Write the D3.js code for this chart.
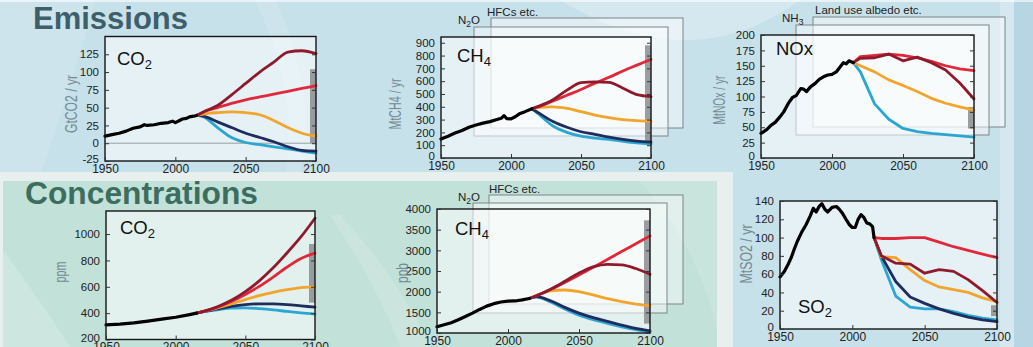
<!DOCTYPE html>
<html>
<head>
<meta charset="utf-8">
<script src="https://cdn.jsdelivr.net/npm/d3@7"></script>
<style>
  html, body { margin: 0; padding: 0; background: #c8e1eb; overflow: hidden; }
  svg { display: block; font-family: "Liberation Sans", Arial, sans-serif; }
</style>
</head>
<body>
<svg id="fig" width="1033" height="347"></svg>
<script>
// ---------- shared ----------
const scenarioNames  = ["SSP1-1.9", "SSP1-2.6", "SSP2-4.5", "SSP3-7.0", "SSP5-8.5"];
const scenarioColors = ["#2ba6d3", "#1f2c5e", "#f2a52c", "#e0283a", "#8f1a2d"];
const scenarioYears  = [2015, 2020, 2030, 2040, 2050, 2060, 2070, 2080, 2090, 2100];
const xTickYears     = [1950, 2000, 2050, 2100];

// ---------- CO2 emissions (GtCO2 / yr) ----------
const co2EmisHistYears = [1950, 1955, 1960, 1965, 1970, 1975, 1978, 1980, 1985, 1990, 1995, 1998, 2000, 2003, 2005, 2008, 2010, 2013, 2015];
const co2EmisHist      = [10, 12, 14, 17, 21, 23, 26, 25, 26, 28, 29, 31, 29, 32, 34, 35, 37, 38, 39];
const co2EmisSSP119 = [39, 37, 22, 8, 1, -2, -5, -8, -11, -14];
const co2EmisSSP126 = [39, 38, 30, 22, 14, 8, 2, -5, -10, -11];
const co2EmisSSP245 = [39, 41, 43, 44, 43, 40, 32, 22, 14, 10];
const co2EmisSSP370 = [39, 44, 50, 56, 61, 65, 69, 73, 77, 81];
const co2EmisSSP585 = [39, 44, 53, 68, 84, 100, 114, 128, 130, 126];
const co2EmisRange  = [0, 104];
const co2EmisTicks  = [-25, 0, 25, 50, 75, 100, 125];

// ---------- CH4 emissions (MtCH4 / yr) ----------
const ch4EmisHistYears = [1950, 1955, 1960, 1965, 1970, 1975, 1980, 1985, 1990, 1993, 1995, 1997, 2000, 2003, 2006, 2010, 2015];
const ch4EmisHist      = [148, 170, 195, 215, 240, 258, 272, 284, 300, 310, 330, 308, 305, 322, 345, 362, 385];
const ch4EmisSSP119 = [385, 340, 250, 200, 170, 155, 145, 130, 118, 110];
const ch4EmisSSP126 = [385, 350, 285, 240, 205, 185, 163, 145, 132, 125];
const ch4EmisSSP245 = [385, 395, 400, 388, 362, 335, 315, 300, 292, 288];
const ch4EmisSSP370 = [385, 400, 445, 490, 535, 585, 630, 680, 725, 770];
const ch4EmisSSP585 = [385, 405, 455, 530, 588, 595, 590, 545, 495, 480];
const ch4EmisRange  = [125, 880];
const ch4EmisTicks  = [0, 100, 200, 300, 400, 500, 600, 700, 800, 900];

// ---------- NOx emissions (MtNOx / yr) ----------
const noxHistYears = [1950, 1954, 1957, 1960, 1963, 1966, 1969, 1972, 1975, 1978, 1980, 1982, 1985, 1988, 1991, 1994, 1997, 2000, 2003, 2005, 2008, 2010, 2012, 2015];
const noxHist      = [40, 46, 53, 58, 66, 75, 88, 98, 102, 113, 112, 108, 116, 121, 128, 132, 135, 136, 140, 146, 155, 153, 158, 155];
const noxSSP119 = [155, 140, 88, 63, 48, 43, 40, 38, 36, 34];
const noxSSP126 = null;
const noxSSP245 = [155, 150, 140, 127, 118, 108, 97, 89, 83, 78];
const noxSSP370 = [155, 165, 167, 169, 167, 163, 157, 150, 145, 142];
const noxSSP585 = [155, 162, 163, 169, 158, 164, 155, 143, 122, 96];
const noxRange  = [48, 83];
const noxTicks  = [0, 25, 50, 75, 100, 125, 150, 175, 200];

// ---------- CO2 concentration (ppm) ----------
const co2ConcHistYears = [1950, 1960, 1970, 1980, 1990, 2000, 2010, 2015];
const co2ConcHist      = [311, 317, 326, 339, 354, 369, 389, 400];
const co2ConcSSP119 = [400, 411, 425, 438, 440, 434, 425, 413, 402, 393];
const co2ConcSSP126 = [400, 412, 432, 452, 465, 470, 470, 465, 455, 445];
const co2ConcSSP245 = [400, 413, 440, 470, 503, 533, 558, 578, 594, 600];
const co2ConcSSP370 = [400, 413, 446, 488, 541, 603, 674, 750, 815, 855];
const co2ConcSSP585 = [400, 414, 449, 497, 563, 645, 744, 858, 980, 1120];
const co2ConcRange  = [480, 925];
const co2ConcTicks  = [200, 400, 600, 800, 1000];

// ---------- CH4 concentration (ppb) ----------
const ch4ConcHistYears = [1950, 1955, 1960, 1965, 1970, 1975, 1980, 1985, 1990, 1995, 2000, 2005, 2010, 2015];
const ch4ConcHist      = [1150, 1200, 1250, 1320, 1400, 1480, 1570, 1650, 1710, 1750, 1770, 1775, 1800, 1835];
const ch4ConcSSP119 = [1835, 1870, 1750, 1580, 1430, 1320, 1230, 1150, 1080, 1020];
const ch4ConcSSP126 = [1835, 1880, 1780, 1620, 1480, 1370, 1280, 1190, 1110, 1050];
const ch4ConcSSP245 = [1835, 1910, 2020, 2040, 2000, 1920, 1830, 1760, 1700, 1660];
const ch4ConcSSP370 = [1835, 1900, 2050, 2220, 2400, 2590, 2780, 2970, 3160, 3350];
const ch4ConcSSP585 = [1835, 1900, 2060, 2250, 2450, 2600, 2660, 2650, 2560, 2420];
const ch4ConcRange  = [1227, 3727];
const ch4ConcTicks  = [1000, 1500, 2000, 2500, 3000, 3500, 4000];

// ---------- SO2 emissions (MtSO2 / yr) ----------
const so2HistYears = [1950, 1953, 1956, 1958, 1960, 1962, 1965, 1968, 1971, 1973, 1975, 1977, 1979, 1981, 1983, 1986, 1989, 1991, 1993, 1996, 1998, 2000, 2002, 2004, 2006, 2008, 2010, 2012, 2014, 2015];
const so2Hist      = [57, 63, 72, 79, 88, 96, 106, 114, 124, 132, 128, 134, 137, 131, 128, 133, 134, 131, 127, 119, 114, 111, 111, 120, 125, 122, 116, 115, 112, 100];
const so2SSP119 = [100, 76, 36, 24, 22, 22, 19, 15, 12, 10];
const so2SSP126 = [100, 80, 52, 35, 28, 22, 17, 13, 10, 8];
const so2SSP245 = [100, 79, 78, 65, 53, 46, 43, 40, 34, 30];
const so2SSP370 = [100, 99, 99, 100, 100, 95, 90, 86, 82, 78];
const so2SSP585 = [100, 80, 72, 71, 61, 65, 63, 54, 42, 29];
const so2Range  = [14, 26];
const so2Ticks  = [0, 20, 40, 60, 80, 100, 120, 140];

// ---------- layout ----------
const svg = d3.select("#fig");

// backdrop
const bg = svg.append("g");
bg.append("rect").attr("width", 1033).attr("height", 347).attr("fill", "#c7e1eb");
bg.append("path").attr("d", "M0,0 L95,0 Q70,90 40,175 L0,175 Z").attr("fill", "#fff").attr("opacity", 0.12);
bg.append("path").attr("d", "M560,0 Q690,80 800,0 Z").attr("fill", "#fff").attr("opacity", 0.25);
bg.append("path").attr("d", "M255,0 Q300,90 285,175 L300,175 Q318,90 275,0 Z").attr("fill", "#fff").attr("opacity", 0.12);
bg.append("rect").attr("x", 1000).attr("y", 0).attr("width", 14).attr("height", 347).attr("fill", "#fff").attr("opacity", 0.25);
bg.append("rect").attr("x", 1014).attr("y", 0).attr("width", 19).attr("height", 347).attr("fill", "#b7d5e3");
bg.append("rect").attr("x", 0).attr("y", 0).attr("width", 1033).attr("height", 2).attr("fill", "#fff").attr("opacity", 0.6);
// concentrations block
bg.append("rect").attr("x", 0).attr("y", 172).attr("width", 733).attr("height", 175).attr("fill", "#e8f0ef");
bg.append("rect").attr("x", 3).attr("y", 181).attr("width", 714).attr("height", 166).attr("fill", "#c2e1d9");
bg.append("path").attr("d", "M3,250 Q40,300 70,347 L3,347 Z").attr("fill", "#fff").attr("opacity", 0.18);
bg.append("path").attr("d", "M330,215 Q380,290 400,347 L430,347 Q400,280 340,215 Z").attr("fill", "#fff").attr("opacity", 0.15);
bg.append("path").attr("d", "M640,181 Q700,250 717,330 L717,181 Z").attr("fill", "#fff").attr("opacity", 0.12);

// section headings
svg.append("text").attr("x", 33).attr("y", 28.5).text("Emissions")
  .attr("font-size", 31).attr("font-weight", "bold").attr("fill", "#3e5f69")
  .attr("textLength", 155).attr("lengthAdjust", "spacingAndGlyphs");
svg.append("text").attr("x", 25).attr("y", 204).text("Concentrations")
  .attr("font-size", 31).attr("font-weight", "bold").attr("fill", "#3c6d5f")
  .attr("textLength", 233).attr("lengthAdjust", "spacingAndGlyphs");

const panels = [
  { hy: co2EmisHistYears, hv: co2EmisHist,
    ssp: [co2EmisSSP119, co2EmisSSP126, co2EmisSSP245, co2EmisSSP370, co2EmisSSP585],
    range: co2EmisRange, ticks: co2EmisTicks, domain: [-25, 150],
    box: { l: 105, r: 316, t: 36.5, b: 161 },
    unit: "GtCO2 / yr", unitPos: [71, 104], unitLen: 58,
    title: ["CO", "2"], titlePos: [117, 65], smooth: true, zero: true, backs: [] },
  { hy: ch4EmisHistYears, hv: ch4EmisHist,
    ssp: [ch4EmisSSP119, ch4EmisSSP126, ch4EmisSSP245, ch4EmisSSP370, ch4EmisSSP585],
    range: ch4EmisRange, ticks: ch4EmisTicks, domain: [0, 945],
    box: { l: 441, r: 651, t: 37, b: 158 },
    unit: "MtCH4 / yr", unitPos: [395, 104], unitLen: 51,
    title: ["CH", "4"], titlePos: [457, 62], smooth: true, zero: false,
    backs: [
      { x0: 491, y0: 18, x1: 683, y1: 128, label: ["HFCs etc."], lx: 487, ly: 16 },
      { x0: 474, y0: 27, x1: 668, y1: 136, label: ["N", "2", "O"], lx: 458, ly: 24 }
    ] },
  { hy: noxHistYears, hv: noxHist,
    ssp: [noxSSP119, noxSSP126, noxSSP245, noxSSP370, noxSSP585],
    range: noxRange, ticks: noxTicks, domain: [0, 200],
    box: { l: 761, r: 974, t: 35, b: 158 },
    unit: "MtNOx / yr", unitPos: [719, 100], unitLen: 49,
    title: ["NOx"], titlePos: [776, 55], smooth: false, zero: false,
    backs: [
      { x0: 813, y0: 17, x1: 1005, y1: 127, label: ["Land use albedo etc."], lx: 815, ly: 14 },
      { x0: 796, y0: 25, x1: 989, y1: 135, label: ["NH", "3"], lx: 782, ly: 22 }
    ] },
  { hy: co2ConcHistYears, hv: co2ConcHist,
    ssp: [co2ConcSSP119, co2ConcSSP126, co2ConcSSP245, co2ConcSSP370, co2ConcSSP585],
    range: co2ConcRange, ticks: co2ConcTicks, domain: [200, 1175],
    box: { l: 106, r: 315, t: 211, b: 339.5 },
    unit: "ppm", unitPos: [60, 272], unitLen: 21,
    title: ["CO", "2"], titlePos: [120, 234], smooth: true, zero: false, backs: [] },
  { hy: ch4ConcHistYears, hv: ch4ConcHist,
    ssp: [ch4ConcSSP119, ch4ConcSSP126, ch4ConcSSP245, ch4ConcSSP370, ch4ConcSSP585],
    range: ch4ConcRange, ticks: ch4ConcTicks, domain: [1000, 4000],
    box: { l: 437, r: 650, t: 209, b: 333 },
    unit: "ppb", unitPos: [402, 273], unitLen: 20,
    title: ["CH", "4"], titlePos: [455, 235], smooth: true, zero: false,
    backs: [
      { x0: 489, y0: 195, x1: 683, y1: 304, label: ["HFCs etc."], lx: 489, ly: 193 },
      { x0: 473, y0: 203, x1: 667, y1: 313, label: ["N", "2", "O"], lx: 458, ly: 201 }
    ] },
  { hy: so2HistYears, hv: so2Hist,
    ssp: [so2SSP119, so2SSP126, so2SSP245, so2SSP370, so2SSP585],
    range: so2Range, ticks: so2Ticks, domain: [0, 140],
    box: { l: 780, r: 997, t: 201, b: 329 },
    unit: "MtSO2 / yr", unitPos: [746, 254], unitLen: 59,
    title: ["SO", "2"], titlePos: [798, 313], smooth: false, zero: false, backs: [] }
];

// writes text parts where every second part is a subscript
function subText(sel, parts, size, subSize, shift) {
  parts.forEach((p, i) => {
    const isSub = i % 2 === 1;
    sel.append("tspan").text(p)
      .attr("font-size", isSub ? subSize : size)
      .attr("dy", isSub ? shift : (i > 0 ? -shift : 0));
  });
}

panels.forEach(p => {
  const x = d3.scaleLinear().domain([1950, 2100]).range([p.box.l, p.box.r]);
  const y = d3.scaleLinear().domain(p.domain).range([p.box.b, p.box.t]);
  const g = svg.append("g");
  const w = p.box.r - p.box.l, h = p.box.b - p.box.t;

  // stacked boxes for other forcers
  p.backs.forEach(b => {
    g.append("rect").attr("x", b.x0).attr("y", b.y0)
      .attr("width", b.x1 - b.x0).attr("height", b.y1 - b.y0)
      .attr("fill", "#fff").attr("fill-opacity", 0.45)
      .attr("stroke", "#7d8487").attr("stroke-width", 1);
    const t = g.append("text").attr("x", b.lx).attr("y", b.ly).attr("fill", "#222");
    subText(t, b.label, 11.5, 8.5, 3);
  });

  // plot area
  g.append("rect").attr("x", p.box.l).attr("y", p.box.t).attr("width", w).attr("height", h)
    .attr("fill", "#fff").attr("fill-opacity", 0.55);

  if (p.zero) {
    g.append("line").attr("x1", p.box.l).attr("x2", p.box.r)
      .attr("y1", y(0)).attr("y2", y(0)).attr("stroke", "#9a9fa2").attr("stroke-width", 1);
  }

  // assessed range bar in 2100
  g.append("rect").attr("x", p.box.r - 6).attr("width", 6)
    .attr("y", y(p.range[1])).attr("height", y(p.range[0]) - y(p.range[1]))
    .attr("fill", "#8a8d8f").attr("opacity", 0.85);

  const line = d3.line().x(d => x(d[0])).y(d => y(d[1]))
    .curve(p.smooth ? d3.curveMonotoneX : d3.curveLinear);

  p.ssp.forEach((vals, i) => {
    if (!vals) return;
    g.append("path").datum(scenarioYears.map((yr, k) => [yr, vals[k]]))
      .attr("d", line).attr("fill", "none")
      .attr("stroke", scenarioColors[i]).attr("stroke-width", 2.8)
      .attr("stroke-linejoin", "round").attr("stroke-linecap", "round")
      .attr("class", "ssp").attr("data-name", scenarioNames[i]);
  });

  g.append("path").datum(p.hy.map((yr, k) => [yr, p.hv[k]]))
    .attr("d", d3.line().x(d => x(d[0])).y(d => y(d[1])))
    .attr("fill", "none").attr("stroke", "#000").attr("stroke-width", 3.2)
    .attr("stroke-linejoin", "round").attr("stroke-linecap", "round");

  // frame
  g.append("rect").attr("x", p.box.l).attr("y", p.box.t).attr("width", w).attr("height", h)
    .attr("fill", "none").attr("stroke", "#151515").attr("stroke-width", 1.4);

  // axes
  const fmt = d => String(d);
  const ax = g.append("g").attr("transform", `translate(0,${p.box.b})`)
    .call(d3.axisBottom(x).tickValues(xTickYears).tickSize(-4).tickPadding(3).tickFormat(fmt));
  const ay = g.append("g").attr("transform", `translate(${p.box.l},0)`)
    .call(d3.axisLeft(y).tickValues(p.ticks).tickSize(-4).tickPadding(6).tickFormat(fmt));
  const ar = g.append("g").attr("transform", `translate(${p.box.r},0)`)
    .call(d3.axisRight(y).tickValues(p.ticks).tickSize(-4).tickFormat(""));
  [ax, ay, ar].forEach(a => {
    a.select(".domain").remove();
    a.selectAll("line").attr("stroke", "#333");
    a.selectAll("text").attr("fill", "#222")
      .attr("font-family", "'Liberation Sans', Arial, sans-serif");
  });
  ax.selectAll("text").attr("font-size", 12);
  ay.selectAll("text").attr("font-size", 11.5);
  // the lowest value label sits on the frame corner, lift it a little
  ay.selectAll(".tick").filter(d => d === p.ticks[0]).select("text").attr("dy", "0.15em");

  // unit label
  g.append("text").text(p.unit)
    .attr("transform", `translate(${p.unitPos[0]},${p.unitPos[1]}) rotate(-90)`)
    .attr("text-anchor", "middle").attr("dominant-baseline", "central")
    .attr("font-size", 16).attr("fill", "#748992")
    .attr("textLength", p.unitLen).attr("lengthAdjust", "spacingAndGlyphs");

  // species name
  const tt = g.append("text").attr("x", p.titlePos[0]).attr("y", p.titlePos[1]).attr("fill", "#111");
  subText(tt, p.title, 18.5, 13, 4);
});
</script>
</body>
</html>
